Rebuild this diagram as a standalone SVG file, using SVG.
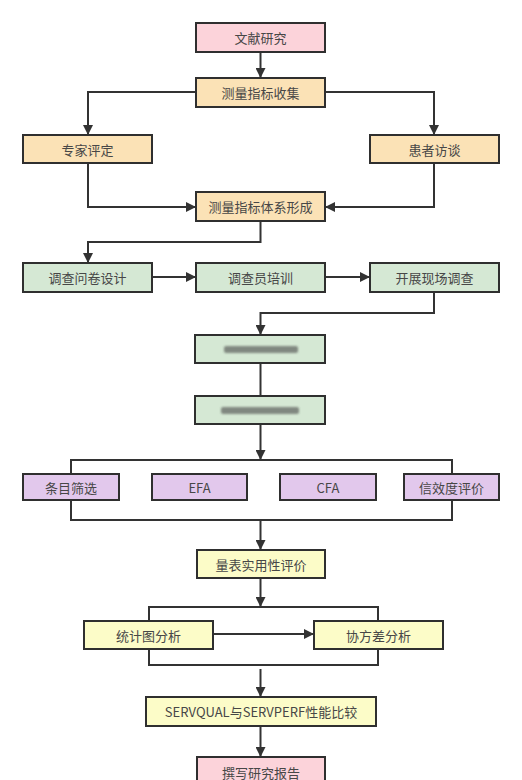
<svg xmlns="http://www.w3.org/2000/svg" width="522" height="780" viewBox="0 0 522 780">
<style>
.n rect{stroke:#2f2f2f;stroke-width:2}
.pink{fill:#fcd3da}.orange{fill:#fbe2b6}.green{fill:#d5e8d4}.purple{fill:#e2c8ec}.yellow{fill:#fcfcc8}
text{font-family:"Noto Sans CJK SC","Liberation Sans",sans-serif;font-size:13px;fill:#474747;text-anchor:middle;dominant-baseline:central}
.c path{fill:none;stroke:#333;stroke-width:2}
.n rect.smudge{fill:#4a4a4a;stroke:none;opacity:0.6;filter:url(#blur)}
</style>
<defs>
<marker id="a" viewBox="0 0 10 10" refX="10" refY="5" markerWidth="5" markerHeight="5" markerUnits="strokeWidth" orient="auto"><path d="M0,0L10,5L0,10z" fill="#333"/></marker>
<filter id="blur" x="-20%" y="-50%" width="140%" height="200%"><feGaussianBlur stdDeviation="1"/></filter>
</defs>
<rect width="522" height="780" fill="#fff"/>
<g class="c">
<path d="M260.5,52V78" marker-end="url(#a)"/>
<path d="M196,92H88V135" marker-end="url(#a)"/>
<path d="M325,92H434V135" marker-end="url(#a)"/>
<path d="M88,163V207H196" marker-end="url(#a)"/>
<path d="M434,163V207H325" marker-end="url(#a)"/>
<path d="M260.5,221V242H88V263" marker-end="url(#a)"/>
<path d="M152,277H196" marker-end="url(#a)"/>
<path d="M325,277H370" marker-end="url(#a)"/>
<path d="M434,292V313H260.5V335" marker-end="url(#a)"/>
<path d="M260.5,363V396"/>
<path d="M260.5,424V460" marker-end="url(#a)"/>
<path d="M71,474V460H452V474"/>
<path d="M71,500V520H452V500"/>
<path d="M260.5,520V550" marker-end="url(#a)"/>
<path d="M260.5,578V607" marker-end="url(#a)"/>
<path d="M149,621V607H378V621"/>
<path d="M213,634H314" marker-end="url(#a)"/>
<path d="M149,649V665H378V649"/>
<path d="M260.5,669V697" marker-end="url(#a)"/>
<path d="M260.5,726V757" marker-end="url(#a)"/>
</g>
<g id="n1" class="n"><rect class="pink" x="196" y="23" width="129" height="29"/><text x="260.5" y="37.5">文献研究</text></g>
<g id="n2" class="n"><rect class="orange" x="196" y="78" width="129" height="29"/><text x="260.5" y="92.5">测量指标收集</text></g>
<g id="n3" class="n"><rect class="orange" x="23" y="135" width="129" height="28"/><text x="87.5" y="149">专家评定</text></g>
<g id="n4" class="n"><rect class="orange" x="370" y="135" width="129" height="28"/><text x="434.5" y="149">患者访谈</text></g>
<g id="n5" class="n"><rect class="orange" x="196" y="192" width="129" height="29"/><text x="260.5" y="206.5">测量指标体系形成</text></g>
<g id="n6" class="n"><rect class="green" x="23" y="263" width="129" height="29"/><text x="87.5" y="277.5">调查问卷设计</text></g>
<g id="n7" class="n"><rect class="green" x="196" y="263" width="129" height="29"/><text x="260.5" y="277.5">调查员培训</text></g>
<g id="n8" class="n"><rect class="green" x="370" y="263" width="129" height="29"/><text x="434.5" y="277.5">开展现场调查</text></g>
<g id="n9" class="n"><rect class="green" x="195" y="335" width="130" height="28"/><rect class="smudge" x="224" y="346" width="74" height="7" rx="2"/></g>
<g id="n10" class="n"><rect class="green" x="195" y="396" width="130" height="28"/><rect class="smudge" x="221" y="407" width="78" height="7" rx="2"/></g>
<g id="n11" class="n"><rect class="purple" x="23" y="474" width="96" height="26"/><text x="71" y="487">条目筛选</text></g>
<g id="n12" class="n"><rect class="purple" x="152" y="474" width="95" height="26"/><text x="199.5" y="487">EFA</text></g>
<g id="n13" class="n"><rect class="purple" x="280" y="474" width="96" height="26"/><text x="328" y="487">CFA</text></g>
<g id="n14" class="n"><rect class="purple" x="404" y="474" width="95" height="26"/><text x="451.5" y="487">信效度评价</text></g>
<g id="n15" class="n"><rect class="yellow" x="197" y="550" width="128" height="28"/><text x="261" y="564">量表实用性评价</text></g>
<g id="n16" class="n"><rect class="yellow" x="84" y="621" width="129" height="28"/><text x="148.5" y="635">统计图分析</text></g>
<g id="n17" class="n"><rect class="yellow" x="314" y="621" width="129" height="28"/><text x="378.5" y="635">协方差分析</text></g>
<g id="n18" class="n"><rect class="yellow" x="146" y="697" width="230" height="29"/><text x="261" y="711.5">SERVQUAL与SERVPERF性能比较</text></g>
<g id="n19" class="n"><rect class="pink" x="197" y="757" width="128" height="30"/><text x="261" y="772">撰写研究报告</text></g>
</svg>
